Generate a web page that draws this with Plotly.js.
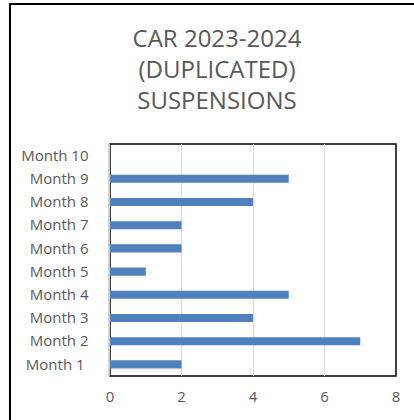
<!DOCTYPE html>
<html>
<head>
<meta charset="utf-8">
<script src="https://cdn.plot.ly/plotly-3.0.1.min.js"></script>
<style>
html,body{margin:0;padding:0;background:#fff;}
#chart{width:414px;height:420px;}
</style>
</head>
<body>
<div id="chart"></div>
<script>
const months = ["Month 1\u00a0", "Month 2", "Month 3", "Month 4", "Month 5", "Month 6", "Month 7", "Month 8", "Month 9", "Month 10"];
const suspensions = [2, 7, 4, 5, 1, 2, 2, 4, 5, 0];
const xTicks = [0, 2, 4, 6, 8];
const titleText = "CAR 2023-2024<br>(DUPLICATED)<br>SUSPENSIONS";

const textColor = "#595959";
const font = "Open Sans, DejaVu Sans, sans-serif";

const trace = {
  type: "bar",
  orientation: "h",
  x: suspensions,
  y: months,
  marker: {color: "#4F81BD"},
  hoverinfo: "x+y"
};

const layout = {
  width: 414,
  height: 420,
  margin: {l: 110, r: 18, t: 144, b: 44},
  paper_bgcolor: "#ffffff",
  plot_bgcolor: "#ffffff",
  showlegend: false,
  bargap: 0.65,
  title: {
    text: titleText,
    font: {family: font, size: 24, color: textColor},
    x: 217 / 414,
    xanchor: "center",
    xref: "container",
    y: 1 - 47 / 420,
    yanchor: "top",
    yref: "container"
  },
  xaxis: {
    range: [0, 8],
    tickvals: xTicks,
    ticktext: xTicks.map(String),
    showgrid: true,
    gridcolor: "#d9d9d9",
    gridwidth: 1,
    zeroline: false,
    showline: false,
    ticks: "",
    ticklabelstandoff: 10,
    tickfont: {family: font, size: 15, color: textColor},
    fixedrange: true
  },
  yaxis: {
    type: "category",
    showgrid: false,
    zeroline: false,
    showline: true,
    linecolor: "#d0d0d0",
    linewidth: 2.5,
    ticks: "",
    ticklabelstandoff: 16,
    tickfont: {family: font, size: 15, color: textColor},
    fixedrange: true
  },
  shapes: [
    {type: "rect", xref: "paper", yref: "paper", x0: 0, x1: 1, y0: 0, y1: 1,
     line: {color: "#000000", width: 1.5}, layer: "below"},
    {type: "line", xref: "paper", yref: "paper",
     x0: -0.3497, x1: 1.2, y0: 1.6034, y1: 1.6034,
     line: {color: "#000000", width: 2}},
    {type: "line", xref: "paper", yref: "paper",
     x0: -0.3497, x1: -0.3497, y0: 1.6077, y1: -0.3,
     line: {color: "#000000", width: 2}}
  ]
};

Plotly.newPlot("chart", [trace], layout, {displayModeBar: false, staticPlot: true});
</script>
</body>
</html>
